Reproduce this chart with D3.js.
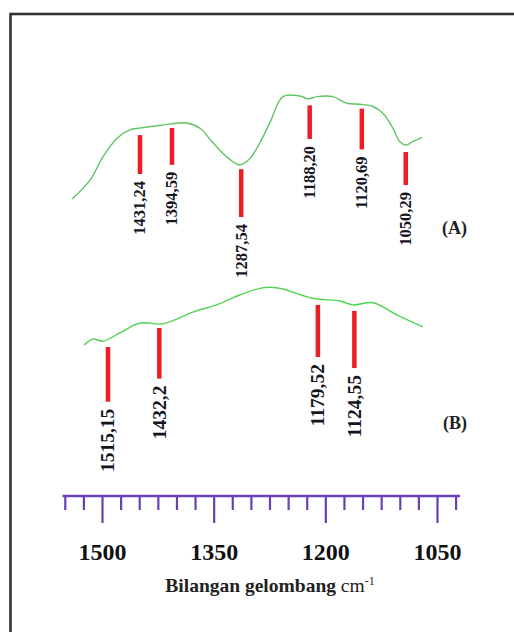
<!DOCTYPE html>
<html>
<head>
<meta charset="utf-8">
<script src="https://cdn.jsdelivr.net/npm/d3@7"></script>
<style>
  body { margin: 0; background: #fff; }
  svg { display: block; font-family: "Liberation Serif", "Times New Roman", serif; }
</style>
</head>
<body>
<svg width="514" height="632"></svg>
<script>
// spectrum A (wavenumber, relative transmittance)
var waveA = [1540, 1516, 1499, 1480, 1462, 1453, 1431, 1409, 1386, 1368, 1351, 1332, 1315, 1301, 1288, 1274, 1257, 1234, 1223, 1211, 1190, 1171, 1154, 1136, 1123, 1109, 1100, 1091, 1083, 1070];
var transA = [1, 18, 39, 56, 64, 65, 67, 69, 70, 65, 52, 39, 32, 38, 52, 71, 94, 94.5, 92, 94, 94, 88, 87, 85, 79, 65, 53, 50, 53, 57];

// spectrum B
var waveB = [1524, 1512, 1499, 1476, 1449, 1422, 1409, 1378, 1346, 1315, 1288, 1274, 1257, 1217, 1180, 1163, 1136, 1104, 1069];
var transB = [4.5, 10, 8, 15.5, 24.5, 23.6, 25.5, 34.5, 41, 50, 56, 57, 55.5, 47, 44.5, 41, 43, 32, 21];

// peak markers A: label, position on axis, marker top / bottom
var peakLabelsA = ["1431,24", "1394,59", "1287,54", "1188,20", "1120,69", "1050,29"];
var peakPosA = [1449, 1406, 1313, 1221, 1151, 1092];
var peakTopA = [59, 65.5, 28, 86, 83, 43.6];
var peakBotA = [23.6, 32, -15.5, 55.5, 46, 13.6];

// peak markers B
var peakLabelsB = ["1515,15", "1432,2", "1179,52", "1124,55"];
var peakPosB = [1492, 1423, 1210, 1161];
var peakTopB = [2.7, 20, 41, 35.5];
var peakBotB = [-47, -26, -6.4, -16.4];

var majorTicks = [1500, 1350, 1200, 1050];
var minorTicks = d3.range(1550, 1024, -25).filter(function(d) { return majorTicks.indexOf(d) < 0; });
var axisTitle = "Bilangan gelombang";

var svg = d3.select("svg");

// frame
svg.append("rect")
    .attr("x", 10.5).attr("y", 14)
    .attr("width", 600).attr("height", 700)
    .attr("fill", "none")
    .attr("stroke", "#333")
    .attr("stroke-width", 2.6);

var x = d3.scaleLinear().domain([1500, 1050]).range([102, 437]);
var yA = d3.scaleLinear().domain([0, 100]).range([200, 90]);
var yB = d3.scaleLinear().domain([0, 100]).range([350, 240]);

function drawPanel(wave, trans, y, color, labels, pos, top, bot, fontSize) {
    var pts = wave.map(function(w, i) { return [w, trans[i]]; });
    var line = d3.line()
        .x(function(d) { return x(d[0]); })
        .y(function(d) { return y(d[1]); })
        .curve(d3.curveCatmullRom);

    svg.append("path")
        .datum(pts)
        .attr("d", line)
        .attr("fill", "none")
        .attr("stroke", color)
        .attr("stroke-width", 1.4);

    var peaks = labels.map(function(l, i) {
        return { label: l, pos: pos[i], top: top[i], bot: bot[i] };
    });

    svg.selectAll(null)
        .data(peaks)
        .enter()
        .append("line")
        .attr("x1", function(d) { return x(d.pos); })
        .attr("x2", function(d) { return x(d.pos); })
        .attr("y1", function(d) { return y(d.top); })
        .attr("y2", function(d) { return y(d.bot); })
        .attr("stroke", "#ee1c25")
        .attr("stroke-width", 4.5);

    svg.selectAll(null)
        .data(peaks)
        .enter()
        .append("text")
        .attr("transform", function(d) {
            return "translate(" + x(d.pos) + "," + (y(d.bot) + 7) + ") rotate(-90)";
        })
        .attr("dy", "0.33em")
        .attr("text-anchor", "end")
        .attr("font-size", fontSize)
        .attr("font-weight", "bold")
        .attr("fill", "#15151f")
        .text(function(d) { return d.label; });
}

drawPanel(waveA, transA, yA, "#62c462", peakLabelsA, peakPosA, peakTopA, peakBotA, 16.5);
drawPanel(waveB, transB, yB, "#52d452", peakLabelsB, peakPosB, peakTopB, peakBotB, 19.5);

svg.append("text").attr("x", 442).attr("y", 234)
    .attr("font-size", 18).attr("font-weight", "bold").attr("fill", "#222")
    .text("(A)");
svg.append("text").attr("x", 443).attr("y", 429)
    .attr("font-size", 18).attr("font-weight", "bold").attr("fill", "#222")
    .text("(B)");

// x axis
var axisY = 496;
var axisColor = "#6a40b5";
var gAxis = svg.append("g").attr("transform", "translate(0," + axisY + ")");

gAxis.append("line")
    .attr("x1", x(1553)).attr("x2", x(1019))
    .attr("stroke", axisColor).attr("stroke-width", 2.5);

var minor = gAxis.append("g")
    .call(d3.axisBottom(x).tickValues(minorTicks).tickSize(14).tickFormat(""));
var major = gAxis.append("g")
    .call(d3.axisBottom(x).tickValues(majorTicks).tickSize(27).tickPadding(20).tickFormat(d3.format("d")));

[minor, major].forEach(function(g) {
    g.select(".domain").remove();
    g.selectAll(".tick line").attr("stroke", axisColor).attr("stroke-width", 2.2);
});
major.selectAll(".tick text")
    .attr("font-family", "Liberation Serif, serif")
    .attr("font-size", 24)
    .attr("font-weight", "bold")
    .attr("fill", "#111");

var title = svg.append("text")
    .attr("x", 270).attr("y", 592)
    .attr("text-anchor", "middle")
    .attr("font-size", 19.5)
    .attr("fill", "#222");
title.append("tspan").attr("font-weight", "bold").text(axisTitle + " ");
title.append("tspan").text("cm");
title.append("tspan").attr("font-size", 12).attr("dy", -7).text("-1");
</script>
</body>
</html>
